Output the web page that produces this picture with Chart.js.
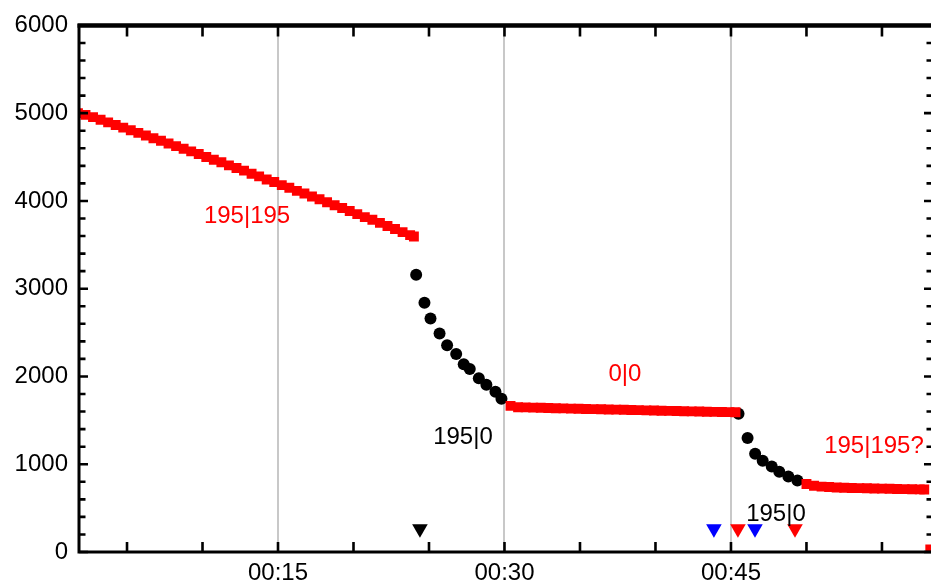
<!DOCTYPE html>
<html><head><meta charset="utf-8">
<script src="https://cdn.jsdelivr.net/npm/chart.js@4.4.1/dist/chart.umd.min.js"></script>
<style>
html,body{margin:0;padding:0;background:#fff;overflow:hidden}
#wrap{width:931px;height:588px;overflow:hidden;position:relative;background:#fff}
canvas{display:block}
</style></head><body>
<div id="wrap"><canvas id="c" width="942" height="588" style="width:942px;height:588px"></canvas></div>
<script>
// ---- data (time in minutes, value) ----
const xTickValues = [5,10,15,20,25,30,35,40,45,50,55];
const xLabeledTicks = [15,30,45];
const yTickValues = [0,1000,2000,3000,4000,5000,6000];

const red1X = [1.75,2.25,2.75,3.25,3.75,4.25,4.75,5.25,5.75,6.25,6.75,7.25,7.75,8.25,8.75,9.25,9.75,10.25,10.75,11.25,11.75,12.25,12.75,13.25,13.75,14.25,14.75,15.25,15.75,16.25,16.75,17.25,17.75,18.25,18.75,19.25,19.75,20.25,20.75,21.25,21.75,22.25,22.75,23.25,23.75,24.0];
const red1Y = [5000,4980,4955,4925,4895,4865,4835,4805,4775,4745,4715,4685,4655,4625,4595,4565,4535,4500,4470,4440,4405,4375,4345,4310,4280,4245,4215,4180,4150,4115,4085,4050,4020,3985,3950,3920,3885,3850,3815,3785,3750,3715,3680,3645,3610,3595];

const black1X = [24.15,24.7,25.1,25.7,26.2,26.8,27.3,27.7,28.3,28.8,29.4,29.8];
const black1Y = [3160,2840,2660,2490,2355,2255,2140,2085,1980,1905,1825,1745];

const red2X = [30.4,30.9,31.4,31.9,32.4,32.9,33.4,33.9,34.4,34.9,35.4,35.9,36.4,36.9,37.4,37.9,38.4,38.9,39.4,39.9,40.4,40.9,41.4,41.9,42.4,42.9,43.4,43.9,44.4,44.9,45.3];
const red2Y = [1665,1650,1648,1645,1643,1640,1638,1636,1634,1632,1630,1628,1626,1624,1622,1620,1618,1616,1614,1612,1610,1608,1606,1604,1602,1600,1598,1596,1595,1594,1592];

const black2X = [45.5,46.1,46.6,47.1,47.7,48.2,48.8,49.4];
const black2Y = [1575,1300,1120,1040,975,915,860,815];

const red3X = [50.0,50.5,51.0,51.5,52.0,52.5,53.0,53.5,54.0,54.5,55.0,55.5,56.0,56.5,57.0,57.5,57.8,58.2];
const red3Y = [775,755,745,740,735,732,730,728,726,724,722,720,718,716,715,713,712,28];

const markerX = [24.4,43.87,45.46,46.59,49.24];
const markerY = [266,266,266,266,266];
const markerColors = ['#000000','#0000ff','#ff0000','#0000ff','#ff0000'];

const noteTexts = ['195|195','195|0','0|0','195|195?','195|0'];
const noteX = [12.95,27.25,37.98,54.47,47.98];
const noteY = [3824,1309,2023,1207,425];
const noteColors = ['#ff0000','#000000','#ff0000','#ff0000','#000000'];

const xMin = 1.82, xMax = 58.38, yMin = 0, yMax = 6000;

function pts(xs, ys){ return xs.map((x,i)=>({x:x, y:ys[i]})); }
function fmtTime(m){ return '00:' + String(m).padStart(2,'0'); }

const FONT = {family:'"Liberation Sans", Arial, sans-serif', size:24};

const framePlugin = {
  id:'frame',
  afterDatasetsDraw(chart){
    const ctx = chart.ctx, a = chart.chartArea;
    const xs = chart.scales.x, ys = chart.scales.y;
    ctx.save();
    ctx.font = '24px "Liberation Sans", Arial, sans-serif';
    ctx.textAlign = 'center';
    ctx.textBaseline = 'middle';
    noteTexts.forEach((t,i)=>{
      ctx.fillStyle = noteColors[i];
      ctx.fillText(t, xs.getPixelForValue(noteX[i]), ys.getPixelForValue(noteY[i]));
    });
    ctx.strokeStyle = '#000';
    ctx.lineWidth = 2.6;
    ctx.beginPath();
    xTickValues.forEach(v=>{
      const px = xs.getPixelForValue(v);
      ctx.moveTo(px, a.bottom); ctx.lineTo(px, a.bottom - 10);
      ctx.moveTo(px, a.top); ctx.lineTo(px, a.top + 11);
    });
    for (let v = yMin; v <= yMax; v += 200){
      const py = ys.getPixelForValue(v);
      const len = (v % 1000 === 0) ? 9 : 6.5;
      ctx.moveTo(a.left, py); ctx.lineTo(a.left + len, py);
      ctx.moveTo(a.right, py); ctx.lineTo(a.right - len, py);
    }
    ctx.stroke();
    ctx.lineWidth = 3;
    ctx.strokeRect(a.left, a.top, a.right - a.left, a.bottom - a.top);
    ctx.lineWidth = 4.5;
    ctx.beginPath(); ctx.moveTo(a.left - 1.5, a.top); ctx.lineTo(a.right + 1.5, a.top); ctx.stroke();
    ctx.restore();
  }
};

const pad = {left:0, top:23, right:3, bottom:0};
const chart = new Chart(document.getElementById('c'), {
  type:'scatter',
  data:{
    datasets:[
      {data:pts(red1X,red1Y), pointStyle:'rect', pointRadius:7, backgroundColor:'#ff0000', borderWidth:0, clip:0},
      {data:pts(red2X,red2Y), pointStyle:'rect', pointRadius:7, backgroundColor:'#ff0000', borderWidth:0, clip:0},
      {data:pts(red3X,red3Y), pointStyle:'rect', pointRadius:7, backgroundColor:'#ff0000', borderWidth:0, clip:0},
      {data:pts(black1X,black1Y), pointStyle:'circle', pointRadius:6, backgroundColor:'#000000', borderWidth:0, clip:0},
      {data:pts(black2X,black2Y), pointStyle:'circle', pointRadius:6, backgroundColor:'#000000', borderWidth:0, clip:0},
      {data:pts(markerX,markerY), pointStyle:'triangle', rotation:180, pointRadius:9, backgroundColor:markerColors, borderWidth:0, clip:0}
    ]
  },
  options:{
    responsive:false,
    animation:false,
    events:[],
    layout:{padding:pad},
    plugins:{legend:{display:false}, tooltip:{enabled:false}},
    scales:{
      x:{
        type:'linear', min:xMin, max:xMax,
        afterBuildTicks(s){ s.ticks = xTickValues.map(v=>({value:v})); },
        afterFit(s){ s.height = 36; },
        border:{display:false},
        grid:{
          drawTicks:false,
          color:(c)=> (c.tick && xLabeledTicks.includes(c.tick.value)) ? '#c8c8c8' : 'rgba(0,0,0,0)',
          lineWidth:2
        },
        ticks:{
          padding:7, color:'#000', font:FONT, maxRotation:0, autoSkip:false,
          callback:(v)=> xLabeledTicks.includes(v) ? fmtTime(v) : ''
        }
      },
      y:{
        type:'linear', min:yMin, max:yMax,
        afterBuildTicks(s){ s.ticks = yTickValues.map(v=>({value:v})); },
        afterFit(s){ s.width = 79; },
        border:{display:false},
        grid:{display:false, drawTicks:false},
        ticks:{padding:11, color:'#000', font:FONT, callback:(v)=> String(v)}
      }
    }
  },
  plugins:[framePlugin]
});
// fine-tune the plot area so its edges land where the reference has them
const a0 = chart.chartArea;
chart.options.layout.padding = {
  left:0,
  top: Math.max(0, 23 + (23 - a0.top)),
  right: Math.max(0, 3 + (a0.right - 933)),
  bottom:0
};
chart.update();
</script>
</body></html>
